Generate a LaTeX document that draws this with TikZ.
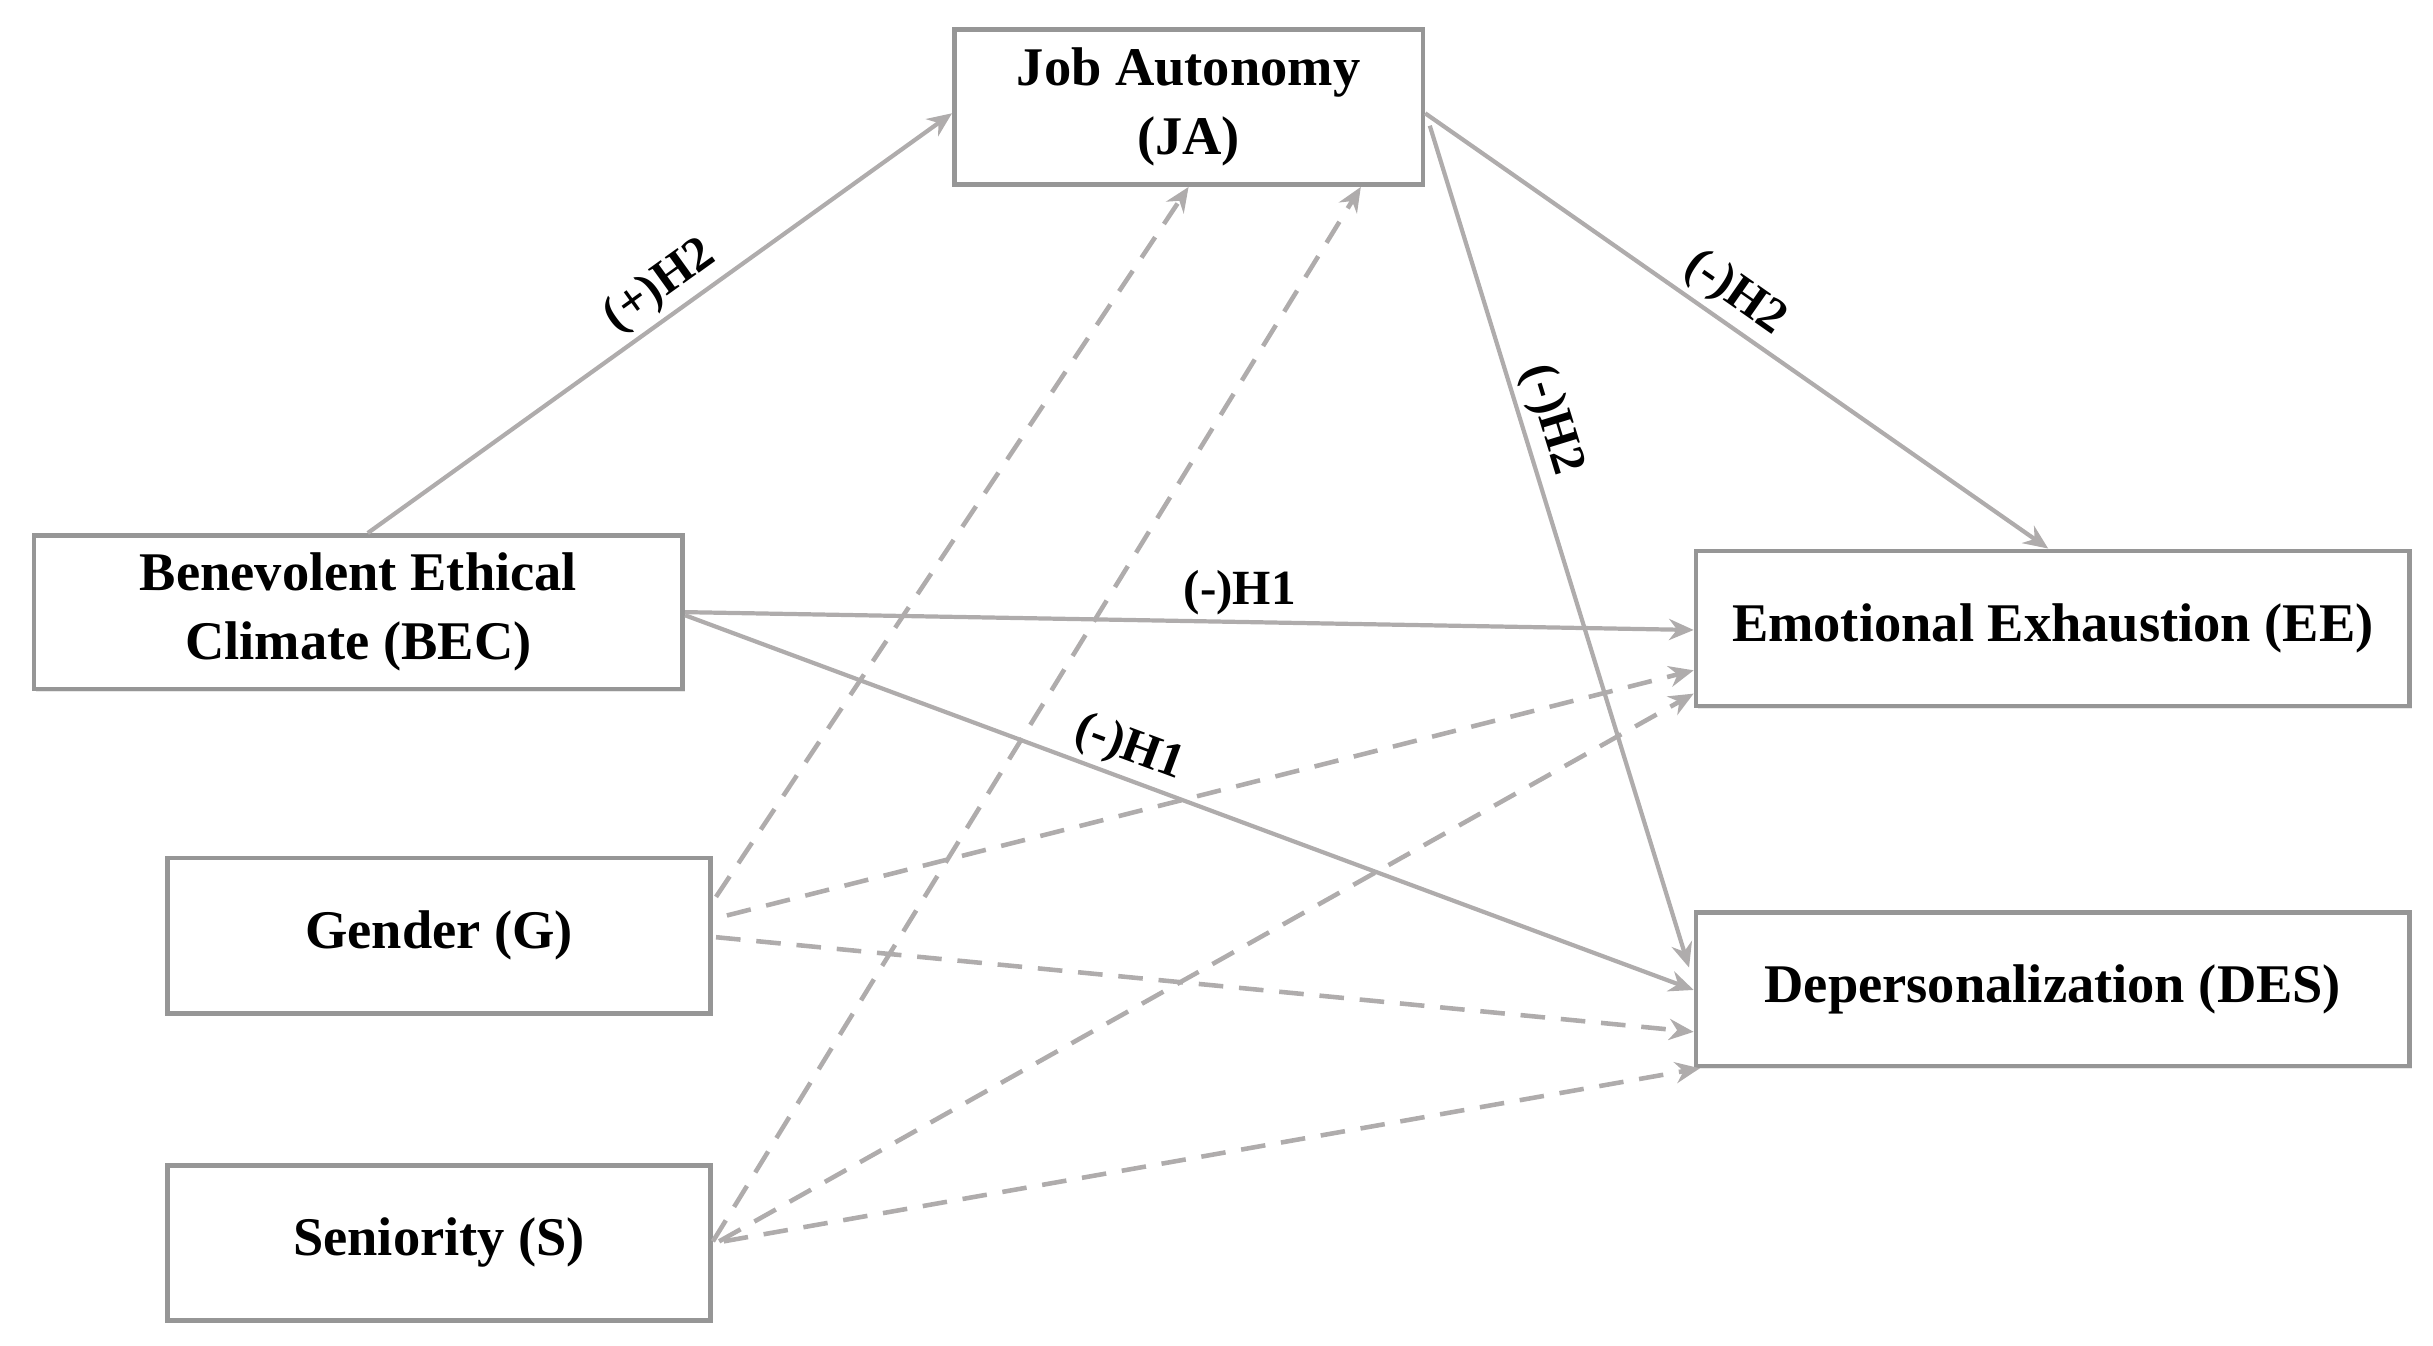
\documentclass[tikz,border=0pt]{standalone}
\usepackage{fontspec}
\setmainfont{Liberation Serif}
\usetikzlibrary{arrows.meta,calc,shadows}
\definecolor{boxgray}{RGB}{150,150,150}
\definecolor{linegray}{RGB}{175,172,172}
\begin{document}
\begin{tikzpicture}[x=0.015517cm,y=-0.015517cm,
  box/.style={draw=boxgray,line width=1.3pt,fill=white,align=center,
    font=\fontsize{15.5}{19.5}\selectfont\bfseries,inner sep=2pt,
    drop shadow={shadow xshift=0.6pt,shadow yshift=-0.8pt,opacity=0.18}},
  conn/.style={draw=linegray,line width=1.2pt,-{Stealth[length=7pt,width=6pt]}},
  ctrl/.style={conn,line width=1.3pt,dash pattern=on 7pt off 4.5pt},
  lab/.style={font=\fontsize{14}{16}\selectfont\bfseries,text=black,inner sep=1.5pt}
]
\useasboundingbox (0,0) rectangle (1568,867.4);

\node[box,minimum width=4.686cm,minimum height=1.552cm] (JA) at (766,69) {Job Autonomy\\(JA)};
\node[box,minimum width=6.486cm,minimum height=1.536cm] (BEC) at (231,394.5) {Benevolent Ethical\\Climate (BEC)};
\node[box,minimum width=5.431cm,minimum height=1.552cm] (G) at (283,603) {\raisebox{-2pt}{Gender (G)}};
\node[box,minimum width=5.431cm,minimum height=1.552cm] (S) at (283,801) {\raisebox{-2pt}{Seniority (S)}};
\node[box,minimum width=7.138cm,minimum height=1.552cm] (EE) at (1323,405) {\raisebox{-2pt}{Emotional Exhaustion (EE)}};
\node[box,minimum width=7.138cm,minimum height=1.536cm] (DES) at (1323,637.5) {\raisebox{-2pt}{Depersonalization (DES)}};

% hypothesised paths
\draw[conn] ($(BEC.north)+(6,0)$) -- node[lab,sloped,above,pos=0.53] {(+)H2} ($(JA.west)+(0,4)$);
\draw[conn] ($(JA.east)+(0,4)$) -- node[lab,sloped,above,pos=0.47] {(-)H2} ($(EE.north)+(-3,0)$);
\draw[conn] ($(JA.east)+(3,12)$) -- node[lab,sloped,above,pos=0.36] {(-)H2} ($(DES.north west)+(-3,37)$);
\draw[conn] (BEC.east) -- node[lab,above,pos=0.55] {(-)H1} ($(EE.west)+(0,1)$);
\draw[conn] ($(BEC.east)+(0,2)$) -- node[lab,sloped,above,pos=0.43] {(-)H1} ($(DES.west)+(0,0.5)$);

% control paths
\draw[ctrl] ($(G.east)+(2,-25)$) -- (JA.south);
\draw[ctrl] ($(G.east)+(9,-13)$) -- ($(EE.west)+(0,27)$);
\draw[ctrl] ($(G.east)+(2,1)$) -- ($(DES.west)+(0,27.5)$);
\draw[ctrl] ($(S.east)+(0,-1)$) -- ($(JA.south)+(111,0)$);
\draw[ctrl] ($(S.east)+(4,-1)$) -- ($(EE.west)+(0,42)$);
\draw[ctrl] ($(S.east)+(7,-1)$) -- ($(DES.south west)+(4,0)$);
\end{tikzpicture}
\end{document}
